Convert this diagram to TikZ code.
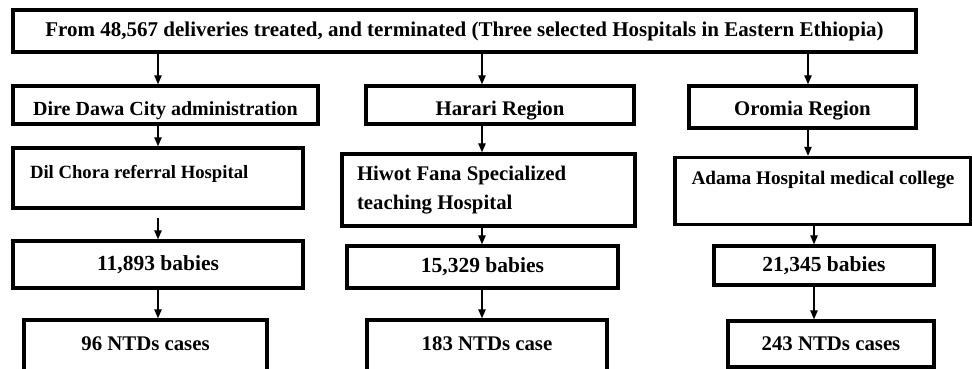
\documentclass[tikz,border=0pt]{standalone}
\usepackage{fontspec}
\setmainfont{Liberation Serif}
\usetikzlibrary{arrows.meta}
\begin{document}
\begin{tikzpicture}[x=1pt,y=-1pt,
    box/.style={draw,line width=3.5pt,inner sep=0pt,
      font=\fontsize{#1}{29}\selectfont\bfseries},
    box/.default=20.8,
    link/.style={line width=1.2pt,-{Triangle[length=9pt,width=7.5pt]}}]
  \useasboundingbox (0,0) rectangle (972,368);
  \node[box=21,minimum width=903,minimum height=42] (all) at (464.5,31)
    {From 48,567 deliveries treated, and terminated (Three selected Hospitals in Eastern Ethiopia)};
  % regions
  \node[box=20,minimum width=305,minimum height=38,text height=20,text depth=0] (dire) at (165.5,105)
    {Dire Dawa City administration};
  \node[box,minimum width=268,minimum height=38,text height=20,text depth=0] (harari) at (500,105)
    {Harari Region};
  \node[box,minimum width=227,minimum height=42,text height=16,text depth=0] (oromia) at (802.5,107)
    {Oromia Region};
  % hospitals
  \node[box=18.7,minimum height=60,inner xsep=17,text width=256,align=flush left,
    text height=14,text depth=14] (dil) at (158,178) {Dil Chora referral Hospital};
  \node[box,minimum height=72,inner xsep=15,text width=263,align=flush left] (hiwot) at (488.5,190)
    {Hiwot Fana Specialized\\teaching Hospital};
  \node[box=19.2,minimum width=296,minimum height=67,text height=13,text depth=27] (adama) at (823,191)
    {Adama Hospital medical college};
  % babies
  \node[box=21.5,minimum width=290,minimum height=47] (b1) at (158,264.5) {11,893 babies};
  \node[box=21.5,minimum width=271,minimum height=42] (b2) at (482.5,267) {15,329 babies};
  \node[box=21.5,minimum width=220,minimum height=39] (b3) at (824,265.5) {21,345 babies};
  % cases
  \node[box,minimum width=243,minimum height=70,text height=13,text depth=23] (n1) at (145.5,355) {96 NTDs cases};
  \node[box,minimum width=240,minimum height=70,text height=13,text depth=23] (n2) at (487,355) {183 NTDs case};
  \node[box,minimum width=206,minimum height=46] (n3) at (831,344) {243 NTDs cases};
  \coordinate (c1) at (158,0);
  \coordinate (c2) at (482,0);
  \coordinate (c3) at (808,0);
  \coordinate (c4) at (814,0);
  \draw[link] (c1 |- all.south) -- (c1 |- dire.north);
  \draw[link] (c1 |- dire.south) -- (c1 |- dil.north);
  \draw[link,shorten <=8pt] (c1 |- dil.south) -- (c1 |- b1.north);
  \draw[link] (c1 |- b1.south) -- (c1 |- n1.north);
  \draw[link] (c2 |- all.south) -- (c2 |- harari.north);
  \draw[link] (c2 |- harari.south) -- (c2 |- hiwot.north);
  \draw[link] (c2 |- hiwot.south) -- (c2 |- b2.north);
  \draw[link] (c2 |- b2.south) -- (c2 |- n2.north);
  \draw[link] (c3 |- all.south) -- (c3 |- oromia.north);
  \draw[link] (c3 |- oromia.south) -- (c3 |- adama.north);
  \draw[link] (c4 |- adama.south) -- (c4 |- b3.north);
  \draw[link] (c4 |- b3.south) -- (c4 |- n3.north);
\end{tikzpicture}
\end{document}
